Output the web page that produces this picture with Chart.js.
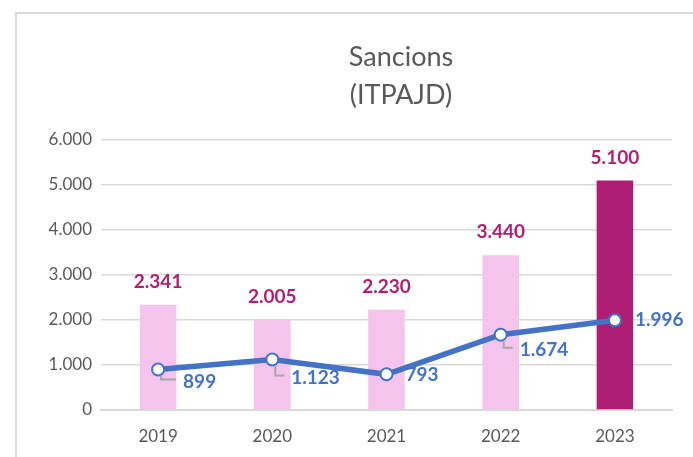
<!DOCTYPE html>
<html>
<head>
<meta charset="utf-8">
<script src="https://cdn.jsdelivr.net/npm/chart.js@4"></script>
<style>
  html, body { margin: 0; padding: 0; background: #fff; }
  .frame { position: absolute; left: 15px; top: 12px; width: 700px; height: 460px;
           border-left: 2px solid #d9d9d9; border-top: 2px solid #d9d9d9; }
  #wrap { position: absolute; left: 0; top: 0; width: 693px; height: 457px; }
</style>
</head>
<body>
<div class="frame"></div>
<div id="wrap"><canvas id="chart"></canvas></div>
<script>
const years = ['2019', '2020', '2021', '2022', '2023'];
const barValues = [2341, 2005, 2230, 3440, 5100];
const lineValues = [899, 1123, 793, 1674, 1996];
const yTicks = [0, 1000, 2000, 3000, 4000, 5000, 6000];

const barColors = ['#f4c3ee', '#f4c3ee', '#f4c3ee', '#f4c3ee', '#ad1f74'];
// label placement next to the line points
const lineLabelDx = [25, 19, 19, 19, 20];
const lineLabelDy = [12, 18, 1, 15, 0];

const fmt = v => String(v).replace(/\B(?=(\d{3})+(?!\d))/g, '.');
const FONT = 'Lato, "Open Sans", sans-serif';

const labelsPlugin = {
  id: 'labels',
  afterDatasetsDraw(chart) {
    const ctx = chart.ctx;
    ctx.save();
    // title
    ctx.fillStyle = '#595959';
    ctx.font = '27px ' + FONT;
    ctx.textAlign = 'center';
    ctx.textBaseline = 'middle';
    ctx.fillText('Sancions', 401, 57);
    ctx.fillText('(ITPAJD)', 401, 95);

    // bar labels
    const barMeta = chart.getDatasetMeta(0);
    ctx.font = 'bold 19px ' + FONT;
    ctx.fillStyle = '#ae2072';
    barMeta.data.forEach((bar, i) => {
      ctx.fillText(fmt(barValues[i]), bar.x, bar.y - 23);
    });

    // line labels with leader lines
    const lineMeta = chart.getDatasetMeta(1);
    ctx.textAlign = 'left';
    lineMeta.data.forEach((pt, i) => {
      const ly = pt.y + lineLabelDy[i];
      const lx = pt.x + lineLabelDx[i];
      if (lineLabelDy[i] > 4) {
        ctx.strokeStyle = '#a6a6a6';
        ctx.lineWidth = 2;
        ctx.beginPath();
        ctx.moveTo(pt.x + 3, pt.y + 6);
        ctx.lineTo(pt.x + 3, ly - 2);
        ctx.lineTo(lx - 7, ly - 2);
        ctx.stroke();
      }
      ctx.fillStyle = '#4472c4';
      ctx.fillText(fmt(lineValues[i]), lx, ly);
    });
    ctx.restore();
  }
};

new Chart(document.getElementById('chart'), {
  data: {
    labels: years,
    datasets: [{
      type: 'bar',
      data: barValues,
      backgroundColor: barColors,
      categoryPercentage: 1,
      barPercentage: 0.32,
      order: 1
    }, {
      type: 'line',
      data: lineValues,
      borderColor: '#4472c4',
      borderWidth: 5.5,
      pointRadius: 6,
      pointBorderWidth: 2,
      pointBackgroundColor: '#ffffff',
      pointBorderColor: '#4472c4',
      tension: 0,
      order: 0
    }]
  },
  options: {
    responsive: true,
    maintainAspectRatio: false,
    animation: false,
    layout: { padding: { left: 15, right: 21, top: 140, bottom: 0 } },
    plugins: {
      legend: { display: false },
      tooltip: { enabled: false }
    },
    scales: {
      x: {
        afterFit: scale => { scale.height = 47; },
        grid: { display: false, drawTicks: false },
        border: { color: '#d9d9d9', width: 2 },
        ticks: { color: '#595959', padding: 16, font: { family: FONT, size: 17 } }
      },
      y: {
        min: 0,
        max: 6000,
        afterBuildTicks: scale => { scale.ticks = yTicks.map(v => ({ value: v })); },
        afterFit: scale => { scale.width = 86; },
        grid: { color: '#d9d9d9', lineWidth: 1.5, drawTicks: false },
        border: { display: false },
        ticks: { color: '#595959', padding: 9, callback: v => fmt(v), font: { family: FONT, size: 17 } }
      }
    }
  },
  plugins: [labelsPlugin]
});
</script>
</body>
</html>
